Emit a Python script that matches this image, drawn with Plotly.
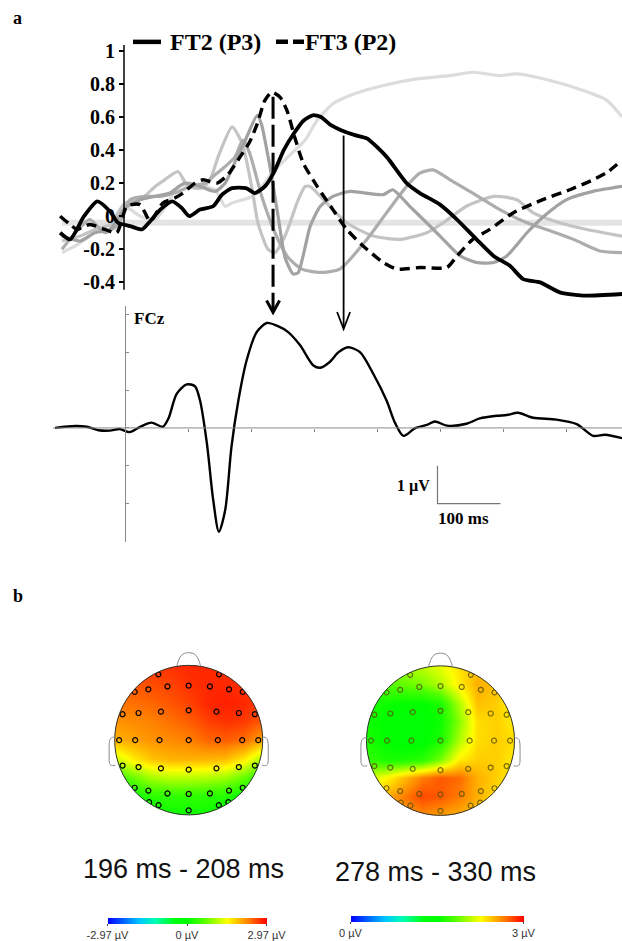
import plotly.graph_objects as go
import numpy as np

W, H = 622, 941

# ---------------- DATA ----------------
# Panel a (top): component time courses (time in ms, normalized amplitude)
ft2_t = [-103, -87, -65, -44, -24, -11, 8, 27, 40, 56, 75, 90, 102, 119, 140, 154, 170, 192, 206, 222,
         237, 252, 268, 284, 298, 311, 327, 343, 365, 384, 415, 447, 468, 500, 527, 558, 585, 611, 632,
         659, 690, 727, 789]
ft2_v = [-0.10, -0.14, 0.0, 0.09, 0.03, -0.04, -0.06, -0.08, -0.03, 0.04, 0.09, 0.05, 0.0, 0.04, 0.06,
         0.13, 0.17, 0.17, 0.14, 0.18, 0.27, 0.40, 0.50, 0.58, 0.61, 0.60, 0.55, 0.52, 0.49, 0.47, 0.36,
         0.20, 0.14, 0.07, -0.02, -0.14, -0.24, -0.30, -0.38, -0.40, -0.46, -0.48, -0.47]

ft3_t = [-103, -87, -76, -56, -32, -13, 3, 24, 40, 60, 79, 92, 111, 124, 146, 163, 183, 198, 210, 222,
         233, 246, 257, 270, 283, 305, 330, 352, 378, 410, 432, 468, 511, 527, 552, 579, 616, 663, 706,
         743, 767, 789]
ft3_v = [0.0, -0.05, -0.08, -0.05, -0.08, -0.10, 0.06, 0.07, -0.03, 0.08, 0.11, 0.14, 0.20, 0.22, 0.20,
         0.25, 0.36, 0.45, 0.56, 0.70, 0.75, 0.72, 0.64, 0.47, 0.32, 0.18, 0.04, -0.08, -0.18, -0.28,
         -0.32, -0.31, -0.31, -0.24, -0.14, -0.08, 0.02, 0.10, 0.16, 0.22, 0.27, 0.34]

g1_t = [-100, -79, -56, -32, -11, 3, 24, 48, 63, 84, 103, 122, 143, 159, 170, 202, 217, 238, 259, 286,
        305, 330, 357, 410, 463, 516, 552, 595, 622, 675, 727, 765, 789]
g1_v = [-0.22, -0.18, -0.12, -0.05, -0.08, 0.05, 0.0, -0.02, 0.05, 0.18, 0.20, 0.18, 0.16, 0.06, 0.08,
        0.12, 0.18, 0.28, 0.36, 0.46, 0.58, 0.68, 0.73, 0.79, 0.83, 0.85, 0.87, 0.85, 0.86, 0.82, 0.76,
        0.70, 0.60]

g2_t = [-100, -71, -48, -24, 0, 24, 48, 63, 84, 100, 122, 135, 148, 170, 186, 202, 211, 227, 238, 254,
        275, 286, 294, 320, 352, 394, 437, 479, 505, 542, 585, 622, 648, 690, 733, 789]
g2_v = [-0.15, -0.12, -0.08, -0.05, 0.08, 0.10, 0.18, 0.22, 0.27, 0.18, 0.17, 0.22, 0.36, 0.54, 0.44,
        0.16, -0.04, -0.20, -0.22, -0.12, 0.10, 0.18, 0.18, 0.08, -0.04, -0.12, -0.14, -0.10, -0.04,
        0.06, 0.12, 0.10, 0.02, -0.04, -0.08, -0.12]

g3_t = [-100, -71, -48, -24, 0, 24, 48, 71, 95, 119, 143, 159, 175, 190, 210, 217, 230, 243, 254, 267,
        275, 294, 310, 330, 357, 410, 425, 452, 479, 500, 532, 558, 585, 606, 638, 665, 701, 743, 789]
g3_v = [-0.12, -0.15, -0.10, -0.08, 0.05, 0.10, 0.12, 0.14, 0.20, 0.18, 0.15, 0.20, 0.33, 0.45, 0.61,
        0.55, 0.30, 0.0, -0.25, -0.35, -0.34, -0.06, 0.06, 0.12, 0.15, 0.13, 0.16, 0.06, -0.04, -0.12,
        -0.24, -0.28, -0.28, -0.24, -0.10, 0.0, 0.10, 0.15, 0.18]

g4_t = [-100, -79, -56, -32, -11, 8, 32, 56, 79, 103, 127, 143, 159, 175, 187, 198, 217, 238, 259, 281,
        310, 341, 384, 415, 447, 468, 489, 516, 552, 595, 638, 669, 712, 754, 789]
g4_v = [-0.20, -0.10, -0.02, -0.10, -0.05, 0.10, 0.12, 0.12, 0.14, 0.18, 0.20, 0.25, 0.30, 0.36, 0.46,
        0.38, 0.12, -0.10, -0.25, -0.32, -0.34, -0.32, -0.14, 0.02, 0.18, 0.26, 0.28, 0.22, 0.14, 0.04,
        -0.04, -0.08, -0.14, -0.21, -0.22]

zero_band_t = [-100, 789]
zero_band_v = [-0.04, -0.04]

top_tickvals = [-0.4, -0.2, 0, 0.2, 0.4, 0.6, 0.8, 1]
top_ticktext = ["-0.4", "-0.2", "0", "0.2", "0.4", "0.6", "0.8", "1"]

# FCz ERP (time in ms, amplitude in microvolts)
fcz_t = [-111, -79, -61, -42, -24, -8, 7, 24, 42, 60, 69, 82, 98, 111, 119, 130, 140, 149, 159, 169,
         180, 193, 209, 225, 241, 259, 278, 299, 310, 325, 339, 354, 373, 394, 415, 429, 442, 460, 479,
         492, 511, 542, 563, 590, 606, 624, 648, 685, 717, 743, 762, 789]
fcz_v = [0.0, 0.05, 0.03, -0.06, -0.07, -0.03, -0.11, 0.03, 0.14, 0.03, 0.25, 0.90, 1.15, 1.10, 0.73,
         -0.41, -1.90, -2.74, -2.17, -0.50, 0.73, 1.78, 2.53, 2.77, 2.70, 2.53, 2.18, 1.65, 1.59, 1.74,
         2.00, 2.13, 2.00, 1.43, 0.73, 0.12, -0.21, -0.01, 0.08, 0.17, 0.06, 0.11, 0.25, 0.32, 0.34,
         0.40, 0.27, 0.22, 0.10, -0.21, -0.18, -0.27]
fcz_yticks = [-2, -1, 0, 1, 2, 3]
fcz_xticks = [100, 200, 300, 400, 500, 600, 700]

arrow_times = [235, 347]          # ms: FT3 (P2) peak, FT2 (P3) marker
scalebar_t0, scalebar_ms, scalebar_uv = 496, 100, 1

# Panel b: topographic maps (values read on a regular grid, front row first)
grid_x = [-1.0, -0.75, -0.5, -0.25, 0.0, 0.25, 0.5, 0.75, 1.0]
grid_y = [1.0, 0.75, 0.5, 0.25, 0.0, -0.25, -0.5, -0.75, -1.0]
topo_left = [
    [2.55, 2.60, 2.65, 2.70, 2.75, 2.75, 2.70, 2.65, 2.55],
    [2.45, 2.50, 2.55, 2.60, 2.70, 2.75, 2.75, 2.70, 2.60],
    [2.30, 2.35, 2.40, 2.50, 2.60, 2.75, 2.80, 2.75, 2.60],
    [2.15, 2.20, 2.25, 2.35, 2.45, 2.62, 2.70, 2.65, 2.45],
    [1.95, 2.05, 2.15, 2.20, 2.25, 2.40, 2.45, 2.35, 2.05],
    [1.20, 1.60, 1.85, 1.95, 1.95, 1.95, 1.90, 1.60, 1.00],
    [0.40, 0.75, 1.05, 1.15, 1.15, 1.10, 1.00, 0.70, 0.30],
    [-0.10, 0.10, 0.30, 0.35, 0.35, 0.30, 0.25, 0.05, -0.10],
    [-0.30, -0.10, 0.05, 0.10, 0.10, 0.10, 0.00, -0.10, -0.30],
]
topo_right = [
    [1.90, 1.95, 2.00, 2.10, 2.20, 2.35, 2.45, 2.45, 2.35],
    [1.75, 1.80, 1.85, 1.90, 2.05, 2.30, 2.50, 2.45, 2.30],
    [1.60, 1.55, 1.50, 1.50, 1.60, 2.05, 2.45, 2.40, 2.25],
    [1.55, 1.50, 1.45, 1.45, 1.55, 1.95, 2.35, 2.40, 2.30],
    [1.60, 1.50, 1.45, 1.45, 1.60, 2.05, 2.35, 2.40, 2.35],
    [1.70, 1.60, 1.60, 1.65, 1.90, 2.30, 2.40, 2.40, 2.30],
    [2.10, 2.25, 2.45, 2.65, 2.75, 2.70, 2.50, 2.40, 2.30],
    [2.30, 2.50, 2.65, 2.80, 2.75, 2.65, 2.50, 2.35, 2.20],
    [2.30, 2.45, 2.55, 2.60, 2.55, 2.50, 2.40, 2.30, 2.20],
]
elec_x = [-0.41, 0.41,
          -0.73, -0.545, -0.287, 0, 0.287, 0.545, 0.73,
          -0.894, -0.678, -0.375, 0, 0.375, 0.678, 0.894,
          -0.94, -0.723, -0.394, 0, 0.394, 0.723, 0.94,
          -0.894, -0.678, -0.375, 0, 0.375, 0.678, 0.894,
          -0.73, -0.545, -0.287, 0, 0.287, 0.545, 0.73,
          -0.535, -0.407, 0, 0.407, 0.535]
elec_y = [0.88, 0.88,
          0.645, 0.68, 0.718, 0.73, 0.718, 0.68, 0.645,
          0.347, 0.363, 0.381, 0.399, 0.381, 0.363, 0.347,
          0, 0, 0, 0, 0, 0, 0,
          -0.34, -0.36, -0.377, -0.395, -0.377, -0.36, -0.34,
          -0.637, -0.675, -0.713, -0.72, -0.713, -0.675, -0.637,
          -0.83, -0.87, -0.94, -0.87, -0.83]
left_range = [-2.97, 2.97]
left_ticks = [-2.97, 0, 2.97]
left_ticktext = ["-2.97 µV", "0 µV", "2.97 µV"]
right_range = [0, 3]
right_ticks = [0, 3]
right_ticktext = ["0 µV", "3 µV"]
map_titles = ["196 ms - 208 ms", "278 ms - 330 ms"]

# ---------------- LAYOUT HELPERS ----------------
def yp(p):
    return 1 - p / H

def xp(p):
    return p / W

T0_PX, MS_PX = 125.0, 0.63
XMIN, XMAX = -T0_PX / MS_PX, (W - T0_PX) / MS_PX

def x_of_t(t):
    return (t - XMIN) / (XMAX - XMIN)

# top panel mapping: pixel = 216.9 - 166*v
TOP_Y0, TOP_K = 216.9, 166.0
top_dom_px = (40, 300)
top_range = [(TOP_Y0 - top_dom_px[1]) / TOP_K, (TOP_Y0 - top_dom_px[0]) / TOP_K]
# FCz mapping: pixel = 429.3 - 38*v
F_Y0, F_K = 429.3, 38.0
f_dom_px = (306.7, 543.3)
f_range = [(F_Y0 - f_dom_px[1]) / F_K, (F_Y0 - f_dom_px[0]) / F_K]

serif = "Liberation Serif"
sans = "Liberation Sans"

fig = go.Figure()

# top panel traces
fig.add_trace(go.Scatter(x=zero_band_t, y=zero_band_v, mode="lines",
                         line=dict(color="#e4e4e4", width=6), hoverinfo="skip", showlegend=False))
for tt, vv, col in [(g1_t, g1_v, "#dcdcdc"), (g2_t, g2_v, "#c4c4c4"),
                    (g4_t, g4_v, "#adadad"), (g3_t, g3_v, "#a2a2a2")]:
    fig.add_trace(go.Scatter(x=tt, y=vv, mode="lines",
                             line=dict(color=col, width=3.2, shape="spline", smoothing=0.6),
                             showlegend=False))
fig.add_trace(go.Scatter(x=ft3_t, y=ft3_v, mode="lines", name="FT3 (P2)",
                         line=dict(color="black", width=3.4, dash="10px,6px", shape="spline", smoothing=0.6),
                         showlegend=False))
fig.add_trace(go.Scatter(x=ft2_t, y=ft2_v, mode="lines", name="FT2 (P3)",
                         line=dict(color="black", width=3.8, shape="spline", smoothing=0.6),
                         showlegend=False))

# FCz trace
fig.add_trace(go.Scatter(x=fcz_t, y=fcz_v, mode="lines", xaxis="x2", yaxis="y2",
                         line=dict(color="black", width=2.4, shape="spline", smoothing=0.8),
                         showlegend=False))

# topomaps
cscale = [[0, "#0000ff"], [0.2, "#00c8ff"], [0.3, "#00ffb0"], [0.42, "#00ff10"], [0.5, "#00ff00"],
          [0.6, "#50ff00"], [0.75, "#ffff00"], [0.87, "#ff8c00"], [1, "#ff0000"]]
gy_asc = grid_y[::-1]
maps = [
    (topo_left, left_range, left_ticks, left_ticktext, "x3", "y3", (107.3, 266.7), 921, "black"),
    (topo_right, right_range, right_ticks, right_ticktext, "x4", "y4", (350.7, 523.3), 919,
     "rgba(90,80,0,0.8)"),
]
for z, rng, tv, tt, xa, ya, (cb0, cb1), cby, ecol in maps:
    fig.add_trace(go.Heatmap(
        x=grid_x, y=gy_asc, z=z[::-1], xaxis=xa, yaxis=ya, zsmooth="best",
        colorscale=cscale, zmin=rng[0], zmax=rng[1], hoverinfo="skip",
        colorbar=dict(orientation="h", lenmode="pixels", len=cb1 - cb0, thicknessmode="pixels",
                      thickness=6, x=xp((cb0 + cb1) / 2), xanchor="center", y=yp(cby), yanchor="top",
                      xpad=0, ypad=0, outlinewidth=0, tickvals=tv, ticktext=tt, ticks="outside",
                      ticklen=2, tickcolor="#444", tickfont=dict(family=sans, size=11, color="#333"))))
    fig.add_trace(go.Scatter(x=elec_x, y=elec_y, mode="markers", xaxis=xa, yaxis=ya,
                             marker=dict(symbol="circle-open", size=5, line=dict(width=1.2, color=ecol),
                                         color=ecol), hoverinfo="skip", showlegend=False))

# ---------------- AXES ----------------
lay = dict(
    width=W, height=H, margin=dict(l=0, r=0, t=0, b=0),
    paper_bgcolor="white", plot_bgcolor="rgba(0,0,0,0)", showlegend=False,
    xaxis=dict(domain=[0, 1], range=[XMIN, XMAX], visible=False, anchor="y"),
    yaxis=dict(domain=[yp(top_dom_px[1]), yp(top_dom_px[0])], range=top_range, anchor="free",
               position=xp(124), showline=False, showgrid=False, zeroline=False,
               ticks="outside", ticklen=5, tickwidth=1.5, tickcolor="black",
               tickvals=top_tickvals, ticktext=["<b>%s</b>" % s for s in top_ticktext],
               tickfont=dict(family=serif, size=20, color="black")),
    xaxis2=dict(domain=[0, 1], range=[XMIN, XMAX], anchor="free", position=yp(F_Y0),
                showline=False, showgrid=False, zeroline=False, ticks="outside", ticklen=3,
                tickcolor="#888", tickvals=fcz_xticks, showticklabels=False),
    yaxis2=dict(domain=[yp(f_dom_px[1]), yp(f_dom_px[0])], range=f_range, anchor="free",
                position=x_of_t(0), showline=True, linecolor="#8a8a8a", linewidth=1,
                showgrid=False, zeroline=False, ticks="inside", ticklen=3, tickcolor="#8a8a8a",
                tickvals=fcz_yticks, showticklabels=False),
)
# topomap axes: left center (188.7, 742.5), right center (440.5, 743)
for i, (cx, cy) in zip([3, 4], [(188.7, 742.5), (440.5, 743.0)]):
    lay["xaxis%d" % i] = dict(domain=[xp(cx - 92.5), xp(cx + 92.5)], range=[-1.25, 1.25],
                              visible=False, anchor="y%d" % i)
    lay["yaxis%d" % i] = dict(domain=[yp(cy + 93.75), yp(cy - 93.75)], range=[-1.25, 1.25],
                              visible=False, anchor="x%d" % i)
fig.update_layout(**lay)

# ---------------- SHAPES ----------------
shapes = []
# top y-axis line
shapes.append(dict(type="line", xref="paper", yref="y", x0=xp(124), x1=xp(124),
                   y0=-0.445, y1=1.035, line=dict(color="black", width=1.5)))
# FCz baseline
shapes.append(dict(type="line", xref="x2", yref="y2", x0=fcz_t[0] - 3, x1=XMAX, y0=0, y1=0,
                   line=dict(color="#8a8a8a", width=1)))
# scale bar
shapes.append(dict(type="path", xref="x2", yref="y2",
                   path="M %f,%f L %f,%f L %f,%f" % (scalebar_t0, -scalebar_uv, scalebar_t0, -2 * scalebar_uv,
                                                     scalebar_t0 + scalebar_ms, -2 * scalebar_uv),
                   line=dict(color="#777", width=1.2)))
# arrows
a1, a2 = arrow_times
shapes.append(dict(type="line", xref="x", yref="paper", x0=a1, x1=a1, y0=yp(97), y1=yp(311),
                   line=dict(color="black", width=3, dash="22px,6px")))
hw = 6.5 / MS_PX
shapes.append(dict(type="path", xref="x", yref="paper",
                   path="M %f,%f L %f,%f L %f,%f" % (a1 - hw, yp(301.5), a1, yp(313.3), a1 + hw, yp(301.5)),
                   line=dict(color="black", width=3)))
shapes.append(dict(type="line", xref="x", yref="paper", x0=a2, x1=a2, y0=yp(136), y1=yp(329),
                   line=dict(color="black", width=1.8)))
shapes.append(dict(type="path", xref="x", yref="paper",
                   path="M %f,%f L %f,%f L %f,%f" % (a2 - hw, yp(313), a2, yp(330), a2 + hw, yp(313)),
                   line=dict(color="black", width=1.8)))
# legend samples
shapes.append(dict(type="line", xref="paper", yref="paper", x0=xp(133), x1=xp(161), y0=yp(42), y1=yp(42),
                   line=dict(color="black", width=4.5)))
shapes.append(dict(type="line", xref="paper", yref="paper", x0=xp(276), x1=xp(304), y0=yp(42), y1=yp(42),
                   line=dict(color="black", width=4.5, dash="12px,5px")))
# topomap masks and head outlines
ang = np.linspace(0, 2 * np.pi, 181)
circ = " ".join(("M" if k == 0 else "L") + " %.4f %.4f" % (1.003 * np.cos(a), 1.003 * np.sin(a))
                for k, a in enumerate(ang)) + " Z"
mask_path = "M -1.4 -1.4 L 1.4 -1.4 L 1.4 1.4 L -1.4 1.4 Z " + circ
nose = "M -0.16 0.99 C -0.13 1.12, -0.09 1.17, 0 1.17 C 0.09 1.17, 0.13 1.12, 0.16 0.99"
ear_l = ("M -0.996 0.04 C -1.05 0.045, -1.075 0.02, -1.075 -0.08 L -1.075 -0.27 "
         "C -1.075 -0.34, -1.045 -0.35, -0.99 -0.335")
ear_r = ("M 0.996 0.04 C 1.05 0.045, 1.075 0.02, 1.075 -0.08 L 1.075 -0.27 "
         "C 1.075 -0.34, 1.045 -0.35, 0.99 -0.335")
for i in [3, 4]:
    xr, yr = "x%d" % i, "y%d" % i
    shapes.append(dict(type="path", xref=xr, yref=yr, path=mask_path, fillcolor="white",
                       fillrule="evenodd", line=dict(width=0), layer="above"))
    shapes.append(dict(type="circle", xref=xr, yref=yr, x0=-1, x1=1, y0=-1, y1=1,
                       line=dict(color="#333", width=1), layer="above"))
    for pth in [nose, ear_l, ear_r]:
        shapes.append(dict(type="path", xref=xr, yref=yr, path=pth,
                           line=dict(color="#8a8a8a", width=1), layer="above"))
fig.update_layout(shapes=shapes)

# ---------------- TEXT ----------------
ann = []
def txt(s, x, y, size, fam=serif, xanchor="left", color="black"):
    ann.append(dict(text=s, x=xp(x), y=yp(y), xref="paper", yref="paper", showarrow=False,
                    xanchor=xanchor, yanchor="middle", font=dict(family=fam, size=size, color=color)))

txt("<b>a</b>", 11, 18, 18)
txt("<b>b</b>", 11, 598, 18)
txt("<b>FT2 (P3)</b>", 168, 42, 24)
txt("<b>FT3 (P2)</b>", 303, 42, 24)
txt("<b>FCz</b>", 132, 320, 17)
txt("<b>1 µV</b>", 432, 488, 16, xanchor="right")
txt("<b>100 ms</b>", 436, 520, 17)
txt(map_titles[0], 183, 872, 27, fam=sans, xanchor="center", color="#111")
txt(map_titles[1], 435, 875, 27, fam=sans, xanchor="center", color="#111")
fig.update_layout(annotations=ann)

fig.write_html("out.html")
